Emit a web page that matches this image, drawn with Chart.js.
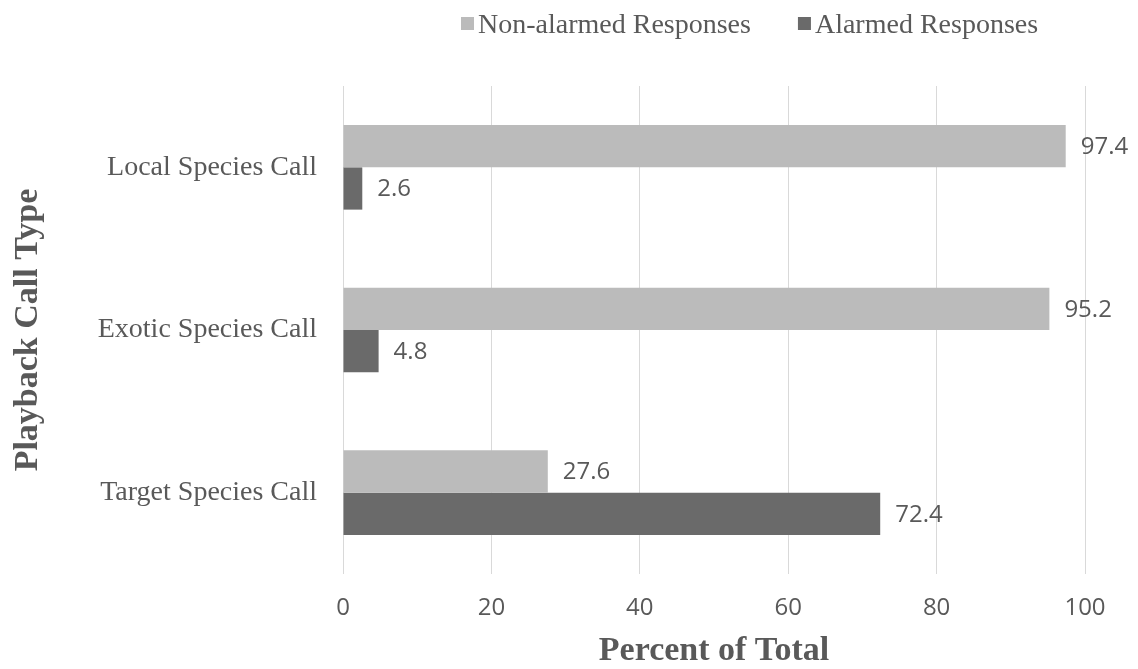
<!DOCTYPE html>
<html>
<head>
<meta charset="utf-8">
<title>Playback Call Responses</title>
<script src="https://cdn.jsdelivr.net/npm/chart.js@4/dist/chart.umd.min.js"></script>
<style>
  html, body { margin: 0; padding: 0; background: #ffffff; }
  #wrap { width: 1138px; height: 669px; position: relative; }
</style>
</head>
<body>
<div id="wrap"><canvas id="chart" width="1138" height="669"></canvas></div>
<script>
// Response percentages per playback call type
const categories = ['Local Species Call', 'Exotic Species Call', 'Target Species Call'];
const seriesNames = ['Non-alarmed Responses', 'Alarmed Responses'];
const nonAlarmed = [97.4, 95.2, 27.6];
const alarmed = [2.6, 4.8, 72.4];
const xTicks = [0, 20, 40, 60, 80, 100];

const TEXT = '#595959';
const SERIF = '"Liberation Serif", "Times New Roman", serif';
const SANS = '"Open Sans", "Noto Sans", sans-serif';

// Value labels placed just past the end of each bar
const valueLabels = {
  id: 'valueLabels',
  afterDatasetsDraw(chart) {
    const ctx = chart.ctx;
    ctx.save();
    ctx.font = '24px ' + SANS;
    ctx.fillStyle = TEXT;
    ctx.textAlign = 'left';
    ctx.textBaseline = 'middle';
    chart.data.datasets.forEach((ds, di) => {
      const meta = chart.getDatasetMeta(di);
      meta.data.forEach((bar, i) => {
        ctx.fillText(ds.data[i].toFixed(1), bar.x + 15, bar.y + 1);
      });
    });
    ctx.restore();
  }
};

// Legend row above the plot: square swatch followed by the series name
const topLegend = {
  id: 'topLegend',
  afterDraw(chart) {
    const ctx = chart.ctx;
    ctx.save();
    ctx.font = '28px ' + SERIF;
    ctx.textBaseline = 'alphabetic';
    ctx.textAlign = 'left';
    const box = 13, gapText = 4, gapItem = 47, y = 17;
    let x = 461;
    chart.data.datasets.forEach(ds => {
      ctx.fillStyle = ds.backgroundColor;
      ctx.fillRect(x, y, box, box);
      ctx.fillStyle = TEXT;
      ctx.fillText(ds.label, x + box + gapText, 33);
      x += box + gapText + ctx.measureText(ds.label).width + gapItem;
    });
    ctx.restore();
  }
};

new Chart(document.getElementById('chart'), {
  type: 'bar',
  data: {
    labels: categories,
    datasets: [
      { label: seriesNames[0], data: nonAlarmed, backgroundColor: '#bbbbbb' },
      { label: seriesNames[1], data: alarmed, backgroundColor: '#6a6a6a' }
    ]
  },
  options: {
    indexAxis: 'y',
    responsive: false,
    animation: false,
    events: [],
    layout: { padding: { top: 86, right: 53, bottom: 0, left: 0 } },
    datasets: { bar: { categoryPercentage: 0.52, barPercentage: 1.0 } },
    plugins: {
      legend: { display: false },
      tooltip: { enabled: false }
    },
    scales: {
      x: {
        min: 0,
        max: 100,
        afterBuildTicks(scale) { scale.ticks = xTicks.map(v => ({ value: v })); },
        afterFit(scale) { scale.height = 95; },
        grid: { color: '#d9d9d9', lineWidth: 1, drawTicks: false },
        border: { display: false },
        ticks: { color: TEXT, font: { family: SANS, size: 24 }, padding: 20 },
        title: {
          display: true,
          text: 'Percent of Total',
          color: TEXT,
          font: { family: SERIF, size: 34, weight: 'bold', lineHeight: 1.0 },
          padding: { top: 0, bottom: 1 }
        }
      },
      y: {
        afterFit(scale) { scale.width = 343; },
        grid: { display: false, drawTicks: false },
        border: { display: false },
        ticks: { color: TEXT, font: { family: SERIF, size: 28 }, padding: 26 },
        title: {
          display: true,
          text: 'Playback Call Type',
          color: TEXT,
          font: { family: SERIF, size: 34, weight: 'bold', lineHeight: 1.0 },
          padding: { top: 11, bottom: 0 }
        }
      }
    }
  },
  plugins: [valueLabels, topLegend]
});
</script>
</body>
</html>
